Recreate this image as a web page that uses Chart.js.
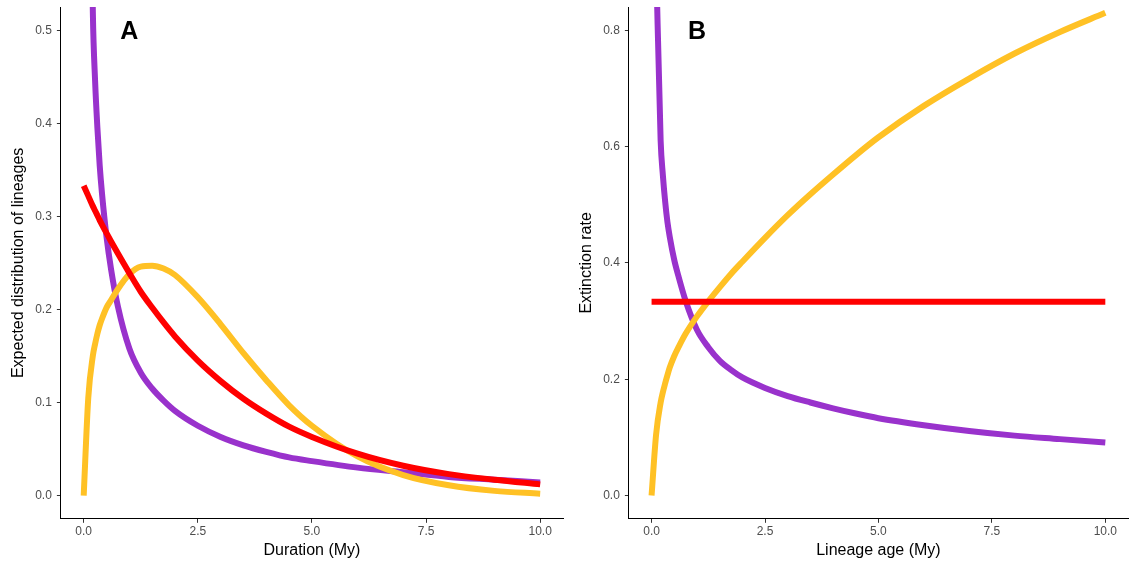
<!DOCTYPE html>
<html lang="en">
  <head>
    <meta charset="UTF-8">
    <title>Lineage duration and extinction rate</title>
    <style>
      body { margin: 0; background: #fff; }
      .panel { position: absolute; top: 0; height: 565px; }
      #panelA { left: 0; width: 564px; }
      #panelB { left: 564px; width: 565px; }
    </style>
  </head>
  <body>
    <div class="panel" id="panelA"><canvas id="chartA"></canvas></div>
    <div class="panel" id="panelB"><canvas id="chartB"></canvas></div>

    <script src="https://cdn.jsdelivr.net/npm/chart.js"></script>
    <script>
      // sampling grid (My) shared by every curve
      const ages = [0, 0.1, 0.2, 0.25, 0.3, 0.35, 0.4, 0.5, 0.6, 0.75, 1, 1.25, 1.5, 1.75, 2, 2.5, 3, 3.5, 4, 4.5, 5, 6, 7, 8, 9, 10];

      // A: expected distribution of lineage durations
      const durConstant   = [0.333, 0.322, 0.311, 0.306, 0.301, 0.296, 0.291, 0.282, 0.273, 0.260, 0.239, 0.219, 0.202, 0.186, 0.171, 0.145, 0.123, 0.104, 0.088, 0.074, 0.063, 0.045, 0.032, 0.023, 0.017, 0.012];
      const durIncreasing = [0, 0.105, 0.150, 0.163, 0.174, 0.183, 0.190, 0.202, 0.210, 0.222, 0.238, 0.246, 0.247, 0.244, 0.237, 0.213, 0.184, 0.153, 0.124, 0.097, 0.075, 0.042, 0.022, 0.011, 0.005, 0.002];
      const durDecreasing = [null, 0.90, 0.52, 0.445, 0.395, 0.355, 0.325, 0.278, 0.243, 0.203, 0.158, 0.132, 0.115, 0.102, 0.091, 0.075, 0.063, 0.054, 0.047, 0.041, 0.037, 0.030, 0.025, 0.020, 0.017, 0.014];

      // B: extinction rate against lineage age
      const rateConstant   = [0.333, 0.333, 0.333, 0.333, 0.333, 0.333, 0.333, 0.333, 0.333, 0.333, 0.333, 0.333, 0.333, 0.333, 0.333, 0.333, 0.333, 0.333, 0.333, 0.333, 0.333, 0.333, 0.333, 0.333, 0.333, 0.333];
      const rateIncreasing = [0, 0.105, 0.160, 0.178, 0.193, 0.207, 0.220, 0.240, 0.256, 0.278, 0.308, 0.334, 0.358, 0.381, 0.402, 0.443, 0.482, 0.518, 0.552, 0.585, 0.616, 0.670, 0.717, 0.760, 0.797, 0.830];
      const rateDecreasing = [null, 0.92, 0.61, 0.55, 0.505, 0.47, 0.445, 0.405, 0.375, 0.335, 0.285, 0.255, 0.232, 0.216, 0.203, 0.185, 0.171, 0.160, 0.150, 0.141, 0.133, 0.121, 0.111, 0.103, 0.097, 0.091];

      const xTicks = [0, 2.5, 5, 7.5, 10];
      const yTicksA = [0, 0.1, 0.2, 0.3, 0.4, 0.5];
      const yTicksB = [0, 0.2, 0.4, 0.6, 0.8];

      const RED = "#FF0000", GOLD = "#FFC125", PURPLE = "#9932CC";

      Chart.defaults.font.family = '"Liberation Sans", Arial, sans-serif';
      Chart.defaults.color = "#4D4D4D";

      function pts(ys) {
        return ages.map((x, i) => ({ x: x, y: ys[i] }));
      }

      function line(ys, color) {
        return {
          data: pts(ys),
          borderColor: color,
          borderWidth: 6,
          pointRadius: 0,
          fill: false,
          cubicInterpolationMode: "monotone",
          clip: 0,
        };
      }

      // big bold panel letter placed in data coordinates
      const panelLetter = {
        id: "panelLetter",
        afterDatasetsDraw(chart, args, opts) {
          const ctx = chart.ctx;
          ctx.save();
          ctx.font = "bold 25px 'Liberation Sans', Arial, sans-serif";
          ctx.fillStyle = "#000";
          ctx.textAlign = "center";
          ctx.textBaseline = "middle";
          const px = chart.scales.x.getPixelForValue(opts.x);
          const py = chart.scales.y.getPixelForValue(opts.y) + 2;
          ctx.fillText(opts.text, px, py);
          ctx.restore();
        },
      };

      // keep the plot box where the layout padding says, not where labels push it
      function noLabelPadding(s) {
        s.paddingTop = 0;
        s.paddingBottom = 0;
        s.paddingLeft = 0;
        s.paddingRight = 0;
      }

      function axisStyle() {
        return {
          border: { display: true, color: "#000", width: 1 },
          grid: { drawOnChartArea: false, drawTicks: true, tickLength: 4, tickColor: "#333" },
          afterFit: noLabelPadding,
        };
      }

      function makePanel(id, cfg) {
        new Chart(document.getElementById(id), {
          type: "line",
          data: {
            datasets: [
              line(cfg.red, RED),
              line(cfg.gold, GOLD),
              line(cfg.purple, PURPLE),
            ],
          },
          options: {
            responsive: true,
            maintainAspectRatio: false,
            animation: false,
            layout: { padding: { top: 7, right: 1, bottom: 2, left: cfg.padLeft } },
            plugins: {
              legend: { display: false },
              tooltip: { enabled: false },
              panelLetter: cfg.letter,
            },
            scales: {
              x: {
                type: "linear",
                min: -0.5,
                max: 10.5,
                afterBuildTicks: (s) => { s.ticks = xTicks.map((v) => ({ value: v })); },
                ticks: { padding: 3, font: { size: 12, lineHeight: 1 }, callback: (v) => v.toFixed(1) },
                title: { display: true, text: cfg.xTitle, color: "#000", font: { size: 16 }, padding: { top: 0, bottom: 3 } },
                ...axisStyle(),
              },
              y: {
                type: "linear",
                min: cfg.yMin,
                max: cfg.yMax,
                afterBuildTicks: (s) => { s.ticks = cfg.yTicks.map((v) => ({ value: v })); },
                ticks: { padding: 5, font: { size: 12 }, callback: (v) => v.toFixed(1) },
                title: { display: true, text: cfg.yTitle, color: "#000", font: { size: 16 }, padding: { top: 8, bottom: 2 } },
                ...axisStyle(),
              },
            },
          },
          plugins: [panelLetter],
        });
      }

      makePanel("chartA", {
        red: durConstant, gold: durIncreasing, purple: durDecreasing,
        yMin: -0.025, yMax: 0.525, yTicks: yTicksA,
        xTitle: "Duration (My)", yTitle: "Expected distribution of lineages",
        letter: { text: "A", x: 1, y: 0.5 },
        padLeft: 1,
      });

      makePanel("chartB", {
        red: rateConstant, gold: rateIncreasing, purple: rateDecreasing,
        yMin: -0.04, yMax: 0.84, yTicks: yTicksB,
        xTitle: "Lineage age (My)", yTitle: "Extinction rate",
        letter: { text: "B", x: 1, y: 0.8 },
        padLeft: 5,
      });
    </script>
  </body>
</html>
